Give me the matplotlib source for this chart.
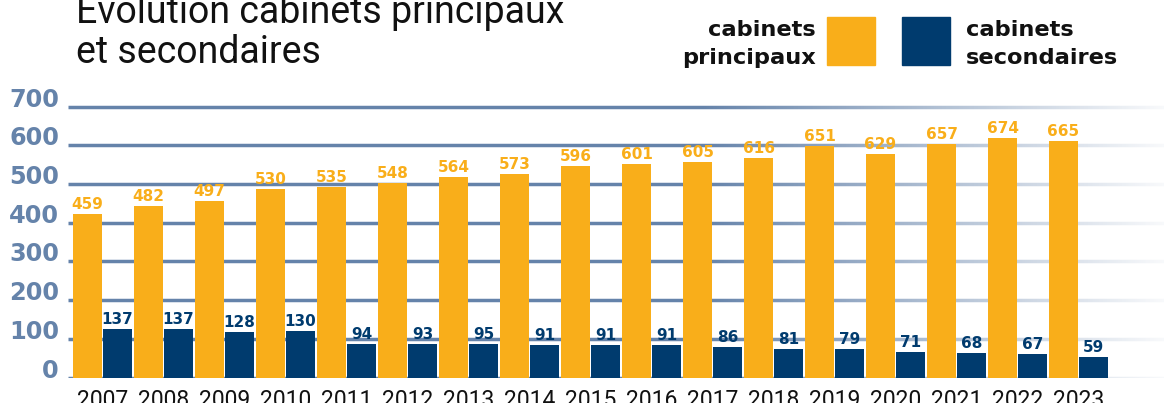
import matplotlib.pyplot as plt
from matplotlib.patches import Rectangle
import numpy as np

# data
years = [str(y) for y in range(2007, 2024)]
principaux = [459, 482, 497, 530, 535, 548, 564, 573, 596, 601, 605, 616, 651, 629, 657, 674, 665]
secondaires = [137, 137, 128, 130, 94, 93, 95, 91, 91, 91, 86, 81, 79, 71, 68, 67, 59]
y_ticks = [0, 100, 200, 300, 400, 500, 600, 700]

ORANGE = "#F9AE1A"
NAVY = "#003B6E"
GRID = "#6583AA"

# in the original the bars are drawn a bit shorter than the grid says
bar_ratio = 0.919

W, H = 1164, 403
fig = plt.figure(figsize=(W / 100, H / 100), dpi=100)

def fx(px):
    return px / W

def fy(py):
    return 1 - py / H

ax = fig.add_axes([fx(68), fy(377.5), fx(1164) - fx(68), (377.5 - 80) / H])
idx = np.arange(len(years))

# gridlines, faded out to the right by a white ramp laid over them
grid_pos = [v / bar_ratio for v in y_ticks]
for gp in grid_pos:
    ax.axhline(gp, color=GRID, lw=2.5, zorder=1, solid_capstyle='butt')

px = 68 + np.linspace(0, 1, 600) * (1164 - 68)
ramp = np.clip((px - 700) / 464, 0, 1) * 0.96
img = np.ones((1, len(px), 4))
img[0, :, 3] = ramp
ax.imshow(img, extent=(0, 1, 0, 1), transform=ax.transAxes, aspect='auto',
          zorder=1.5, interpolation='bilinear')

w = 0.485
off = 0.245
ax.bar(idx - off, principaux, width=w, color=ORANGE, zorder=2)
ax.bar(idx + off, secondaires, width=w, color=NAVY, zorder=2)

for i in idx:
    ax.annotate(str(principaux[i]), (i - off, principaux[i]), xytext=(0, 3.6),
                textcoords='offset points', ha='center', va='baseline',
                fontsize=11, fontweight='bold', color=ORANGE, zorder=3)
    ax.annotate(str(secondaires[i]), (i + off, secondaires[i]), xytext=(0, 3.6),
                textcoords='offset points', ha='center', va='baseline',
                fontsize=11, fontweight='bold', color=NAVY, zorder=3)

ax.set_xlim((68 - 102.5) / 61, (1164 - 102.5) / 61)
ax.set_ylim(0, (377.5 - 80) / 0.3556)

ax.set_yticks(grid_pos, labels=[str(v) for v in y_ticks])
ax.tick_params(axis='y', length=0, pad=6.5, labelsize=17.3, labelcolor=GRID)
for lab in ax.get_yticklabels():
    lab.set_fontweight('bold')
    lab.set_verticalalignment('baseline')

ax.set_xticks(idx, labels=years)
ax.tick_params(axis='x', length=0, pad=8.3, labelsize=16.5, labelcolor='#111111')
for lab in ax.get_xticklabels():
    lab.set_family('Roboto')

for s in ax.spines.values():
    s.set_visible(False)

# title
fig.text(fx(76), fy(23), "Evolution cabinets principaux", fontsize=27,
         family='Roboto', va='baseline', color='#111111')
fig.text(fx(76), fy(63), "et secondaires", fontsize=27,
         family='Roboto', va='baseline', color='#111111')

# legend
fig.text(fx(816), fy(35.7), "cabinets", ha='right', va='baseline',
         fontsize=16.2, fontweight='bold', color='#111111')
fig.text(fx(816), fy(64.3), "principaux", ha='right', va='baseline',
         fontsize=16.2, fontweight='bold', color='#111111')
fig.add_artist(Rectangle((fx(826.7), fy(65)), fx(875) - fx(826.7), (65 - 17.3) / H,
                         transform=fig.transFigure, color=ORANGE))
fig.add_artist(Rectangle((fx(902), fy(65)), fx(950) - fx(902), (65 - 17.3) / H,
                         transform=fig.transFigure, color=NAVY))
fig.text(fx(966), fy(35.7), "cabinets", ha='left', va='baseline',
         fontsize=16.2, fontweight='bold', color='#111111')
fig.text(fx(966), fy(64.3), "secondaires", ha='left', va='baseline',
         fontsize=16.2, fontweight='bold', color='#111111')

fig.savefig('out.png', dpi=100)
